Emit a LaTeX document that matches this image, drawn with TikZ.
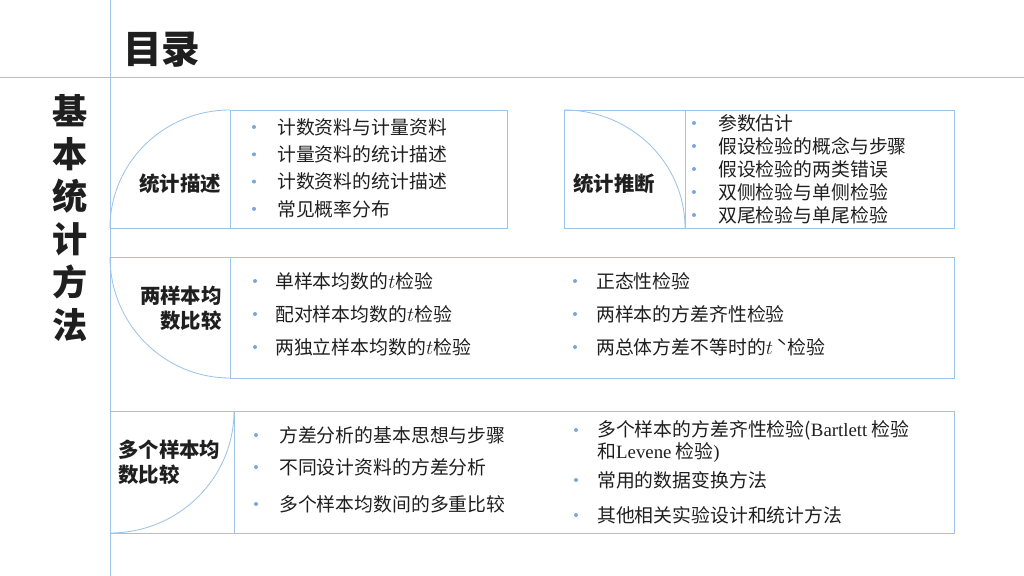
\documentclass[tikz,border=0pt]{standalone}
\usepackage{fontspec}
\setmainfont{Noto Sans CJK SC}
\newfontfamily\latfont{Liberation Serif}

\definecolor{frameblue}{HTML}{9DC3E6}
\definecolor{dotblue}{HTML}{7BA7D9}
\definecolor{ink}{HTML}{1F1F1F}

\tikzset{
  frame/.style={draw=frameblue, line width=0.6pt},
  item/.style={anchor=west, inner sep=0pt, text=ink, font=\fontsize{13.4}{15}\selectfont},
  tag/.style={inner sep=0pt, text=ink, font=\bfseries\fontsize{14.5}{18}\selectfont},
}

\begin{document}
\begin{tikzpicture}[x=0.025cm,y=-0.025cm]
  \useasboundingbox (0,0) rectangle (1024,576);

  \draw[frame] (0,77) -- (1024,77);
  \draw[frame] (110,0) -- (110,576);

  \node[anchor=west, inner sep=0pt, text=ink, font=\bfseries\fontsize{27.5}{30}\selectfont] (title) at (123,50) {目录};
  \node[align=center, inner sep=0pt, text=ink, font=\bfseries\fontsize{25}{30.5}\selectfont] (side) at (70,218) {基\\本\\统\\计\\方\\法};

  % statistical description
  \draw[frame] (230,110) -- (507,110) -- (507,228) -- (110,228);
  \draw[frame] (230,110) -- (230,228);
  \draw[frame] (110,228) arc[start angle=180, end angle=270, x radius=120, y radius=118];
  \node[tag] (desc) at (180,184) {统计描述};
  \foreach \t [count=\i] in {计数资料与计量资料,计量资料的统计描述,计数资料的统计描述,常见概率分布}{
    \fill[dotblue] (254,{127+27.3*(\i-1)}) circle [radius=2];
    \node[item] (desc\i) at (277,{127+27.3*(\i-1)}) {\t};
  }

  % statistical inference
  \draw[frame] (564,110) rectangle (954,228);
  \draw[frame] (685,110) -- (685,228);
  \draw[frame] (564,110) arc[start angle=270, end angle=360, x radius=121, y radius=118];
  \node[tag, anchor=west] (infer) at (573,184) {统计推断};
  \foreach \t [count=\i] in {参数估计,假设检验的概念与步骤,假设检验的两类错误,双侧检验与单侧检验,双尾检验与单尾检验}{
    \fill[dotblue] (694,{123+23*(\i-1)}) circle [radius=2];
    \node[item] (infer\i) at (718,{123+23*(\i-1)}) {\t};
  }

  % two sample means
  \draw[frame] (110,257) -- (954,257) -- (954,378) -- (230,378);
  \draw[frame] (230,257) -- (230,378);
  \draw[frame] (110,257) arc[start angle=180, end angle=90, x radius=120, y radius=121];
  \node[tag, anchor=east, align=right] (two) at (222,308) {两样本均\\数比较};
  \foreach \t [count=\i] in {单样本均数的$t$检验,配对样本均数的$t$检验,两独立样本均数的$t$检验}{
    \fill[dotblue] (255,{281+33*(\i-1)}) circle [radius=2];
    \node[item] (twoa\i) at (275,{281+33*(\i-1)}) {\t};
  }
  \foreach \t [count=\i] in {正态性检验,两样本的方差齐性检验,两总体方差不等时的$t$\,ˋ检验}{
    \fill[dotblue] (575,{281+33*(\i-1)}) circle [radius=2];
    \node[item] (twob\i) at (596,{281+33*(\i-1)}) {\t};
  }

  % several sample means
  \draw[frame] (110,411) rectangle (954,533);
  \draw[frame] (234,411) -- (234,533);
  \draw[frame] (234,411) arc[start angle=0, end angle=90, x radius=124, y radius=122];
  \node[tag, anchor=west, align=left] (multi) at (118,462) {多个样本均\\数比较};
  \foreach \y/\t [count=\i] in {435/方差分析的基本思想与步骤,467/不同设计资料的方差分析,504/多个样本均数间的多重比较}{
    \fill[dotblue] (256,\y) circle [radius=2];
    \node[item] (multia\i) at (279,\y) {\t};
  }
  \foreach \y/\t [count=\i] in {430/{多个样本的方差齐性检验({\latfont Bartlett} 检验},480/常用的数据变换方法,515/其他相关实验设计和统计方法}{
    \fill[dotblue] (576,\y) circle [radius=2];
    \node[item] (multib\i) at (597,\y) {\t};
  }
  \node[item] (levene) at (597,453) {和{\latfont Levene} 检验{\latfont )}};
\end{tikzpicture}
\end{document}
